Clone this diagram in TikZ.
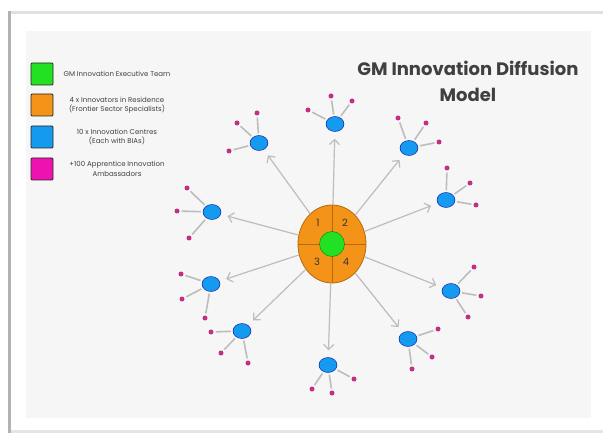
\documentclass[tikz,border=0pt]{standalone}
\usepackage{fontspec}
\setmainfont{Poppins}
\usepackage{tikz}
\usetikzlibrary{arrows.meta, positioning, shapes.geometric}
\definecolor{panel}{HTML}{F6F6F6}
\definecolor{hubfill}{HTML}{F39419}
\definecolor{hubline}{HTML}{B56A10}
\definecolor{execgreen}{HTML}{22E022}
\definecolor{centreblue}{HTML}{149BF0}
\definecolor{ambpink}{HTML}{C42E86}
\definecolor{keypink}{HTML}{EE12B0}
\definecolor{spokegray}{HTML}{BDBDBD}

\begin{document}
\begin{tikzpicture}[x=1pt, y=-1pt,
    hub/.style={ellipse, draw=hubline, line width=0.8pt, fill=hubfill, minimum width=68pt, minimum height=78pt, inner sep=0pt},
    exec/.style={circle, draw=green!50!black, line width=0.4pt, fill=execgreen, minimum size=25pt, inner sep=0pt},
    centre/.style={ellipse, draw=blue!60!black, line width=0.4pt, fill=centreblue, minimum width=18pt, minimum height=15pt, inner sep=0pt},
    ambassador/.style={circle, fill=ambpink, minimum size=5pt, inner sep=0pt},
    spoke/.style={draw=spokegray, line width=1.2pt, -{Straight Barb[length=5pt,width=10pt]}, shorten >=7pt},
    leg/.style={draw=spokegray, line width=1.6pt, shorten <=2pt, shorten >=2pt},
    key/.style={rectangle, draw=black!85, line width=0.9pt, minimum width=22pt, minimum height=22pt, rounded corners=1pt},
    keytext/.style={font=\fontsize{7}{9.5}\selectfont, align=center, text=black!75},
    quarter/.style={font=\fontsize{10}{10}\selectfont, text=black!80}]

  \useasboundingbox (0,0) rectangle (603,433);
  \fill[white] (0,0) rectangle (603,433);
  % card edges and panel
  \fill[black!12] (8,11) rectangle (603,14);
  \fill[black!30] (8,11) rectangle (11,433);
  \fill[black!10] (11,430) rectangle (603,433);
  \fill[panel] (26,31) rectangle (591,418);

  % title
  \node[font=\bfseries\fontsize{18}{26}\selectfont, text=black!75, align=center] (title) at (468,81)
    {GM Innovation Diffusion\\Model};

  % legend
  \node[key, fill=execgreen] (k1) at (42,74) {};
  \node[key, fill=hubfill] (k2) at (42,105) {};
  \node[key, fill=centreblue] (k3) at (42,137) {};
  \node[key, fill=keypink] (k4) at (42,169) {};
  \node[keytext] (t1) at (117,74) {GM Innovation Executive Team};
  \node[keytext] (t2) at (117,105) {4 x Innovators in Residence\\(Frontier Sector Specialists)};
  \node[keytext] (t3) at (117,137) {10 x Innovation Centres\\(Each with BIAs)};
  \node[keytext] (t4) at (117,169) {+100 Apprentice Innovation\\Ambassadors};

  % innovation centres with their ambassadors
  \foreach \n/\pos/\pa/\pb/\pc in {
      1/{(335,124)}/{(308,110)}/{(331,96)}/{(352,101)},
      2/{(409,148)}/{(398,118)}/{(426,123)}/{(439,142)},
      3/{(446,200)}/{(447,168)}/{(470,183)}/{(476,205)},
      4/{(451,291)}/{(474,267)}/{(481,296)}/{(468,317)},
      5/{(408,339)}/{(438,329)}/{(432,357)}/{(412,369)},
      6/{(328,365)}/{(354,379)}/{(332,393)}/{(312,389)},
      7/{(242,331)}/{(211,332)}/{(221,353)}/{(248,363)},
      8/{(211,284)}/{(181,274)}/{(182,299)}/{(205,318)},
      9/{(212,212)}/{(187,188)}/{(177,211)}/{(189,238)},
      10/{(259,143)}/{(237,123)}/{(257,113)}/{(229,151)}} {
    \node[centre] (s\n) at \pos {};
    \node[ambassador] (a\n) at \pa {};
    \node[ambassador] (b\n) at \pb {};
    \node[ambassador] (c\n) at \pc {};
    \draw[leg] (s\n) -- (a\n);
    \draw[leg] (s\n) -- (b\n);
    \draw[leg] (s\n) -- (c\n);
  }

  % executive team and innovators in residence
  \node[hub] (hub) at (332,244) {};
  \draw[hubline, line width=0.7pt] (hub.west) -- (hub.east);
  \draw[hubline, line width=0.7pt] (hub.north) -- (hub.south);
  \node[quarter] (q1) at (318,223) {1};
  \node[quarter] (q2) at (345,223) {2};
  \node[quarter] (q3) at (317,262) {3};
  \node[quarter] (q4) at (346,262) {4};
  \node[exec] (exec) at (hub) {};

  % diffusion spokes
  \foreach \n in {1,...,10}
    \draw[spoke] (hub) -- (s\n);
\end{tikzpicture}
\end{document}
